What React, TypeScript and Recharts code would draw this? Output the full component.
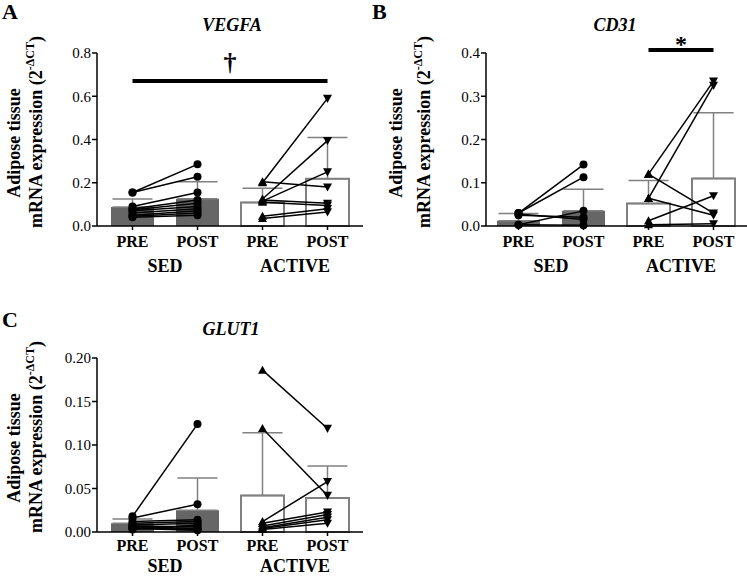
import React from "react";
import {
  ComposedChart,
  Bar,
  Cell,
  ErrorBar,
  Line,
  XAxis,
  YAxis,
  ReferenceLine,
} from "recharts";

const FONT = "'Liberation Serif', 'Times New Roman', serif";

const categories = ["SED PRE", "SED POST", "ACTIVE PRE", "ACTIVE POST"];
const timeLabels = ["PRE", "POST", "PRE", "POST"];
const groups = ["SED", "SED", "ACTIVE", "ACTIVE"];

// VEGFA
const vegfaMean = [0.088, 0.126, 0.109, 0.218];
const vegfaSd = [0.037, 0.079, 0.065, 0.191];
const vegfaSedPre = [0.155, 0.155, 0.09, 0.08, 0.075, 0.07, 0.06, 0.05, 0.045, 0.04];
const vegfaSedPost = [0.285, 0.228, 0.155, 0.12, 0.105, 0.09, 0.08, 0.07, 0.06, 0.05];
const vegfaActPre = [0.2, 0.205, 0.125, 0.115, 0.12, 0.11, 0.045, 0.035];
const vegfaActPost = [0.59, 0.18, 0.395, 0.25, 0.105, 0.095, 0.08, 0.065];

// CD31
const cd31Mean = [0.012, 0.035, 0.052, 0.11];
const cd31Sd = [0.017, 0.05, 0.053, 0.152];
const cd31SedPre = [0.03, 0.03, 0.028, 0.025, 0.003, 0.003];
const cd31SedPost = [0.142, 0.113, 0.015, 0.02, 0.035, 0.002];
const cd31ActPre = [0.12, 0.064, 0.12, 0.064, 0.012, 0.003];
const cd31ActPost = [0.335, 0.325, 0.03, 0.025, 0.07, 0.005];

// GLUT1
const glutMean = [0.01, 0.025, 0.042, 0.039];
const glutSd = [0.005, 0.037, 0.072, 0.037];
const glutSedPre = [0.018, 0.016, 0.012, 0.01, 0.008, 0.007, 0.006, 0.005, 0.004, 0.003];
const glutSedPost = [0.124, 0.032, 0.014, 0.012, 0.01, 0.006, 0.004, 0.003, 0.002, 0.008];
const glutActPre = [0.186, 0.119, 0.012, 0.01, 0.007, 0.005, 0.004, 0.003];
const glutActPost = [0.119, 0.042, 0.058, 0.023, 0.02, 0.017, 0.014, 0.01];

function buildRows(
  mean: number[],
  sd: number[],
  sedPre: number[],
  sedPost: number[],
  actPre: number[],
  actPost: number[]
) {
  return categories.map((cat, i) => {
    const row: any = { cat, group: groups[i], mean: mean[i], err: [0, sd[i]] };
    sedPre.forEach((v, j) => {
      row[`s${j}`] = i === 0 ? v : i === 1 ? sedPost[j] : null;
    });
    actPre.forEach((v, j) => {
      row[`a${j}`] = i === 2 ? v : i === 3 ? actPost[j] : null;
    });
    return row;
  });
}

const makeTimeTick = (dy: number) => (p: any) => (
  <text
    x={p.x}
    y={p.y + dy}
    textAnchor="middle"
    fontFamily={FONT}
    fontWeight="bold"
    fontSize={16}
    fill="#000"
  >
    {timeLabels[categories.indexOf(p.payload.value)]}
  </text>
);

const makeGroupTick = (dy: number) => (p: any) => (
  <text
    x={p.x}
    y={p.y + dy}
    textAnchor="middle"
    fontFamily={FONT}
    fontWeight="bold"
    fontSize={18}
    fill="#000"
  >
    {p.payload.value}
  </text>
);

const makeMarkLabel = (mark: string, dy: number, size: number) => (props: any) => {
  const vb = props.viewBox || {};
  const x = (vb.x || 0) + (vb.width || 0) / 2;
  return (
    <text
      x={x}
      y={(vb.y || 0) - dy}
      textAnchor="middle"
      fontFamily={FONT}
      fontWeight="bold"
      fontSize={size}
      fill="#000"
    >
      {mark}
    </text>
  );
};

const renderDot = (kind: "circle" | "tri") => (props: any) => {
  const { cx, cy, index, payload, dataKey } = props;
  const key = `${dataKey}-${index}`;
  if (payload == null || payload[dataKey] == null || cx == null || cy == null) {
    return <g key={key} />;
  }
  if (kind === "circle") {
    return <circle key={key} cx={cx} cy={cy} r={4} fill="#000" />;
  }
  const s = 4.5;
  const pts =
    index === 2
      ? `${cx},${cy - s} ${cx - s},${cy + s * 0.8} ${cx + s},${cy + s * 0.8}`
      : `${cx},${cy + s} ${cx - s},${cy - s * 0.8} ${cx + s},${cy - s * 0.8}`;
  return <polygon key={key} points={pts} fill="#000" />;
};

interface PanelProps {
  rows: any[];
  sedCount: number;
  actCount: number;
  yMax: number;
  ticks: number[];
  decimals: number;
  left: number;
  top: number;
  width: number;
  height: number;
  margin: { top: number; right: number; bottom: number; left: number };
  padding: { left: number; right: number };
  timeDy: number;
  groupDy: number;
  children?: React.ReactNode;
}

const Panel = ({
  rows,
  sedCount,
  actCount,
  yMax,
  ticks,
  decimals,
  left,
  top,
  width,
  height,
  margin,
  padding,
  timeDy,
  groupDy,
  children,
}: PanelProps) => (
  <div style={{ position: "absolute", left, top, width, height }}>
    <ComposedChart width={width} height={height} data={rows} margin={margin}>
      <XAxis
        xAxisId="cat"
        dataKey="cat"
        interval={0}
        height={22}
        padding={padding}
        tickSize={4}
        tickMargin={0}
        axisLine={{ stroke: "#000", strokeWidth: 1.5 }}
        tickLine={{ stroke: "#000", strokeWidth: 1.5 }}
        tick={makeTimeTick(timeDy)}
      />
      <XAxis
        xAxisId="grp"
        dataKey="group"
        allowDuplicatedCategory={false}
        interval={0}
        height={23}
        padding={padding}
        tickSize={0}
        tickMargin={0}
        axisLine={false}
        tickLine={false}
        tick={makeGroupTick(groupDy)}
      />
      <YAxis
        width={50}
        domain={[0, yMax]}
        ticks={ticks}
        interval={0}
        tickSize={5}
        tickMargin={1}
        tickFormatter={(v: number) => v.toFixed(decimals)}
        axisLine={{ stroke: "#000", strokeWidth: 1.5 }}
        tickLine={{ stroke: "#000", strokeWidth: 1.5 }}
        tick={{ fill: "#000", fontSize: 15, fontFamily: FONT }}
      />
      <Bar xAxisId="cat" dataKey="mean" barSize={43} isAnimationActive={false}>
        {rows.map((r, i) => (
          <Cell
            key={i}
            fill={r.group === "SED" ? "#666666" : "#ffffff"}
            stroke={r.group === "SED" ? "none" : "#808080"}
            strokeWidth={2}
          />
        ))}
        <ErrorBar dataKey="err" width={20} stroke="#808080" strokeWidth={1.5} direction="y" />
      </Bar>
      {Array.from({ length: sedCount }, (_, j) => (
        <Line
          key={`s${j}`}
          xAxisId="cat"
          dataKey={`s${j}`}
          type="linear"
          stroke="#000"
          strokeWidth={1.5}
          dot={renderDot("circle")}
          activeDot={false}
          connectNulls={false}
          isAnimationActive={false}
        />
      ))}
      {Array.from({ length: actCount }, (_, j) => (
        <Line
          key={`a${j}`}
          xAxisId="cat"
          dataKey={`a${j}`}
          type="linear"
          stroke="#000"
          strokeWidth={1.5}
          dot={renderDot("tri")}
          activeDot={false}
          connectNulls={false}
          isAnimationActive={false}
        />
      ))}
      {children}
    </ComposedChart>
  </div>
);

const YLabel = ({ x1, x2, y1, y2 }: { x1: number; x2: number; y1: number; y2: number }) => (
  <g fontFamily={FONT} fontWeight="bold" fontSize={18} fill="#000">
    <text transform={`translate(${x1},${y1}) rotate(-90)`} textAnchor="middle">
      Adipose tissue
    </text>
    <text transform={`translate(${x2},${y2}) rotate(-90)`} textAnchor="middle">
      mRNA expression (2
      <tspan fontSize={12} dy={-8}>
        -ΔCT
      </tspan>
      <tspan dy={8}>)</tspan>
    </text>
  </g>
);

export default function App() {
  const vegfaRows = buildRows(vegfaMean, vegfaSd, vegfaSedPre, vegfaSedPost, vegfaActPre, vegfaActPost);
  const cd31Rows = buildRows(cd31Mean, cd31Sd, cd31SedPre, cd31SedPost, cd31ActPre, cd31ActPost);
  const glutRows = buildRows(glutMean, glutSd, glutSedPre, glutSedPost, glutActPre, glutActPost);

  return (
    <div
      style={{
        position: "absolute",
        left: 0,
        top: 0,
        width: 747,
        height: 577,
        background: "#fff",
        overflow: "hidden",
      }}
    >
      <Panel
        rows={vegfaRows}
        sedCount={vegfaSedPre.length}
        actCount={vegfaActPre.length}
        yMax={0.8}
        ticks={[0, 0.2, 0.4, 0.6, 0.8]}
        decimals={1}
        left={0}
        top={0}
        width={370}
        height={280}
        margin={{ top: 53, right: 7, bottom: 9, left: 47 }}
        padding={{ left: 3, right: 3 }}
        timeDy={17}
        groupDy={24}
      >
        <ReferenceLine
          xAxisId="cat"
          segment={[
            { x: "SED PRE", y: 0.67 },
            { x: "ACTIVE POST", y: 0.67 },
          ]}
          stroke="#000"
          strokeWidth={4}
          label={makeMarkLabel("†", 10, 26)}
        />
      </Panel>
      <Panel
        rows={cd31Rows}
        sedCount={cd31SedPre.length}
        actCount={cd31ActPre.length}
        yMax={0.4}
        ticks={[0, 0.1, 0.2, 0.3, 0.4]}
        decimals={1}
        left={377}
        top={0}
        width={370}
        height={280}
        margin={{ top: 53, right: 0, bottom: 9, left: 59 }}
        padding={{ left: 0, right: 1 }}
        timeDy={17}
        groupDy={24}
      >
        <ReferenceLine
          xAxisId="cat"
          ifOverflow="visible"
          segment={[
            { x: "ACTIVE PRE", y: 0.407 },
            { x: "ACTIVE POST", y: 0.407 },
          ]}
          stroke="#000"
          strokeWidth={4}
          label={makeMarkLabel("*", -2, 24)}
        />
      </Panel>
      <Panel
        rows={glutRows}
        sedCount={glutSedPre.length}
        actCount={glutActPre.length}
        yMax={0.2}
        ticks={[0, 0.05, 0.1, 0.15, 0.2]}
        decimals={2}
        left={0}
        top={280}
        width={370}
        height={297}
        margin={{ top: 78, right: 7, bottom: 0, left: 47 }}
        padding={{ left: 3, right: 3 }}
        timeDy={15}
        groupDy={18}
      />
      <svg
        width={747}
        height={577}
        style={{ position: "absolute", left: 0, top: 0, pointerEvents: "none" }}
      >
        <g fontFamily={FONT} fontWeight="bold" fontSize={22} fill="#000">
          <text x={2} y={19}>A</text>
          <text x={372} y={19}>B</text>
          <text x={2} y={327}>C</text>
        </g>
        <g fontFamily={FONT} fontWeight="bold" fontStyle="italic" fontSize={18} fill="#000" textAnchor="middle">
          <text x={232} y={31}>VEGFA</text>
          <text x={615} y={31}>CD31</text>
          <text x={231} y={335}>GLUT1</text>
        </g>
        <YLabel x1={20} x2={42} y1={143} y2={132} />
        <YLabel x1={402} x2={430} y1={143} y2={132} />
        <YLabel x1={20} x2={42} y1={448} y2={437} />
      </svg>
    </div>
  );
}
